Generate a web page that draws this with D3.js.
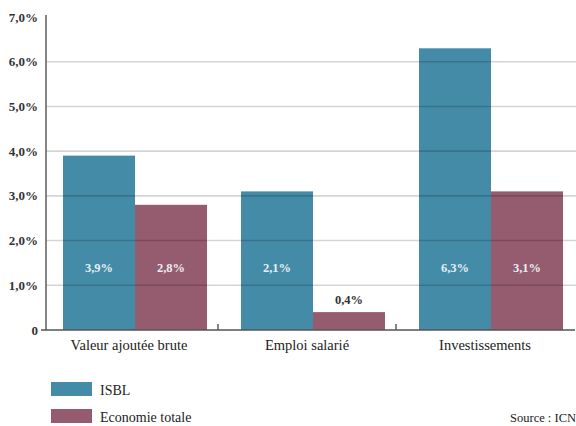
<!DOCTYPE html>
<html><head><meta charset="utf-8">
<script src="https://cdn.jsdelivr.net/npm/d3@7"></script>
<style>body{margin:0;background:#fff}svg{display:block}</style>
</head><body>
<script>
const categories = ["Valeur ajoutée brute", "Emploi salarié", "Investissements"];
const seriesNames = ["ISBL", "Economie totale"];
const isblValues = [3.9, 3.1, 6.3];
const ecoValues = [2.8, 0.4, 3.1];
const isblLabels = ["3,9%", "2,1%", "6,3%"];
const ecoLabels = ["2,8%", "0,4%", "3,1%"];
const yTicks = [0, 1, 2, 3, 4, 5, 6, 7];
const yTickLabels = ["0", "1,0%", "2,0%", "3,0%", "4,0%", "5,0%", "6,0%", "7,0%"];
const colors = ["#448ba8", "#955b6e"];

const W = 576, H = 426;
const svg = d3.select("body").append("svg").attr("width", W).attr("height", H);
const font = "Liberation Serif";

const y = d3.scaleLinear().domain([0, 7]).range([330, 17]);
const x = d3.scaleBand().domain(categories).range([40, 574]).padding(0);
const inner = d3.scaleBand().domain(seriesNames).range([23, 167]).padding(0);

const data = categories.map((c, i) => ({
  cat: c,
  vals: [
    {s: seriesNames[0], v: isblValues[i], label: isblLabels[i]},
    {s: seriesNames[1], v: ecoValues[i], label: ecoLabels[i]}
  ]
}));

// bars
const g = svg.append("g");
data.forEach(d => {
  d.vals.forEach((e, j) => {
    g.append("rect")
      .attr("x", x(d.cat) + inner(e.s))
      .attr("y", y(e.v))
      .attr("width", inner.bandwidth())
      .attr("height", y(0) - y(e.v))
      .attr("fill", colors[j]);
  });
});

// gridlines (drawn over bars)
svg.append("g").selectAll("line").data(yTicks.filter(t => t > 0 && t < 7)).join("line")
  .attr("x1", 46).attr("x2", 576)
  .attr("y1", d => y(d)).attr("y2", d => y(d))
  .attr("stroke", "#000").attr("stroke-opacity", 0.17).attr("stroke-width", 1.6);

// y axis line
svg.append("line").attr("x1", 46).attr("x2", 46).attr("y1", 15).attr("y2", y(0))
  .attr("stroke", "#666").attr("stroke-width", 1.6);
// x axis line
svg.append("line").attr("x1", 41).attr("x2", 575).attr("y1", y(0)).attr("y2", y(0))
  .attr("stroke", "#555").attr("stroke-width", 1.6);
// category separator ticks
svg.append("g").selectAll("line").data(categories.slice(1)).join("line")
  .attr("x1", d => x(d)).attr("x2", d => x(d))
  .attr("y1", y(0)).attr("y2", y(0) - 6)
  .attr("stroke", "#555").attr("stroke-width", 1.4);

// y tick labels
svg.append("g").selectAll("text").data(yTicks).join("text")
  .attr("x", 38).attr("y", d => y(d) + 4.5)
  .attr("text-anchor", "end")
  .attr("font-family", font).attr("font-weight", "bold").attr("font-size", 13)
  .attr("fill", "#333")
  .text((d, i) => yTickLabels[i]);

// category labels
svg.append("g").selectAll("text").data(categories).join("text")
  .attr("x", d => x(d) + x.bandwidth() / 2).attr("y", 350)
  .attr("text-anchor", "middle")
  .attr("font-family", font).attr("font-size", 14.5)
  .attr("fill", "#222")
  .text(d => d);

// value labels
data.forEach(d => {
  d.vals.forEach((e, j) => {
    const cx = x(d.cat) + inner(e.s) + inner.bandwidth() / 2;
    const inside = e.v > 1.2;
    svg.append("text")
      .attr("x", cx)
      .attr("y", inside ? 272 : y(e.v) - 8)
      .attr("text-anchor", "middle")
      .attr("font-family", font).attr("font-weight", "bold").attr("font-size", 12.5)
      .attr("fill", inside ? "#e6eef2" : "#333")
      .text(e.label);
  });
});

// legend
const leg = svg.append("g");
seriesNames.forEach((s, i) => {
  leg.append("rect").attr("x", 51).attr("y", 382 + i * 27).attr("width", 41).attr("height", 14)
    .attr("fill", colors[i]);
  leg.append("text").attr("x", 100).attr("y", 395 + i * 27)
    .attr("font-family", font).attr("font-size", 14).attr("fill", "#222").text(s);
});
svg.append("text").attr("x", 576).attr("y", 422).attr("text-anchor", "end")
  .attr("font-family", font).attr("font-size", 12.5).attr("fill", "#222").text("Source : ICN");
</script>
</body></html>
